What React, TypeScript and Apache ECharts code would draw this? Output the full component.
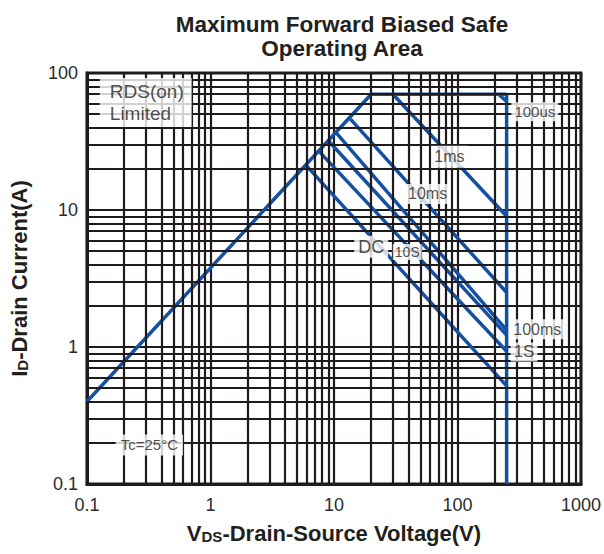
import React, { useEffect, useRef } from "react";
import * as echarts from "echarts";

// ---- tick labels ----
const xTickLabels = ["0.1", "1", "10", "100", "1000"];
const yTickLabels = ["0.1", "1", "10", "100"];

// ---- SOA curves: [VDS (V), ID (A)] ----
const limitLine = [[0.1, 0.4], [20, 70], [250, 70], [250, 0.1]];
const line100us = [[215, 70], [250, 62]];
const line1ms = [[30, 70], [250, 9]];
const line10ms = [[13.6, 46], [250, 2.5]];
const line100ms = [[10.3, 37], [250, 1.33]];
const line10s = [[9, 32], [250, 1.22]];
const line1s = [[7.5, 27], [250, 0.93]];
const lineDC = [[6, 21], [250, 0.52]];

// ---- annotation anchors (data coords) ----
const annoNames = ["RDS(on)\nLimited", "100us", "1ms", "10ms", "DC", "10S", "100ms", "1S", "Tc=25°C"];
const annoX = [0.127, 423, 86, 57.3, 20, 39.2, 443, 346, 0.32];
const annoY = [61, 52.2, 24.5, 13.1, 5.4, 4.93, 1.35, 0.92, 0.193];

const FONT = "Liberation Sans, Arial, Helvetica, sans-serif";
const GRID = "#1f1b1c";
const BLUE = "#1450a2";

const annoStyle: Record<string, any> = {
  "RDS(on)\nLimited": { fontSize: 19, lineHeight: 22, align: "left", padding: [3, 8, 2, 10] },
  "100us": { fontSize: 15, padding: [2, 3] },
  "1ms": { fontSize: 16, padding: [3, 3] },
  "10ms": { fontSize: 16, padding: [2, 3] },
  "DC": { fontSize: 18, padding: [2, 4] },
  "10S": { fontSize: 14, padding: [1, 2] },
  "100ms": { fontSize: 16, padding: [2, 3] },
  "1S": { fontSize: 17, padding: [1, 3] },
  "Tc=25°C": { fontSize: 15, padding: [3, 5] },
};

function minorValues(decades: number[]) {
  const out: number[] = [];
  decades.forEach((d) => {
    for (let m = 2; m <= 9; m++) out.push(+(m * d).toPrecision(3));
  });
  return out;
}

export default function App() {
  const ref = useRef<HTMLDivElement>(null);
  useEffect(() => {
    document.body.style.margin = "0";
    const chart = echarts.init(ref.current!, null, { renderer: "svg" });
    const xMinor = minorValues([0.1, 1, 10, 100]);
    const yMinor = minorValues([0.1, 1, 10]);
    const blueLine = (name: string, data: number[][]) => ({
      type: "line",
      name,
      data,
      symbol: "none",
      silent: true,
      z: 3,
      lineStyle: { color: BLUE, width: 3.5 },
    });
    const nameRich = {
      b: { fontSize: 22, fontWeight: "bold", fontFamily: FONT, color: "#231f20" },
      s: { fontSize: 15, fontWeight: "bold", fontFamily: FONT, color: "#231f20", verticalAlign: "bottom" },
    };
    const option: any = {
      animation: false,
      title: {
        text: "Maximum Forward Biased Safe\nOperating Area",
        left: 337,
        top: 7,
        textAlign: "center",
        textStyle: { fontFamily: FONT, fontSize: 22.5, fontWeight: "bold", color: "#231f20", lineHeight: 24 },
      },
      grid: { left: 87, right: 20, top: 73, bottom: 70, show: true, borderColor: GRID, borderWidth: 3, backgroundColor: "#fff" },
      xAxis: {
        type: "log",
        logBase: 10,
        min: 0.1,
        max: 1000,
        axisLine: { show: true, lineStyle: { color: GRID, width: 3 } },
        axisTick: { show: false },
        splitLine: { show: true, lineStyle: { color: GRID, width: 2.2 } },
        axisLabel: {
          formatter: (v: number) => xTickLabels[Math.round(Math.log10(v)) + 1],
          fontSize: 18,
          color: "#2b2b2b",
          fontFamily: FONT,
          margin: 12,
        },
        name: "{b|V}{s|DS}{b|-Drain-Source Voltage(V)}",
        nameLocation: "middle",
        nameGap: 38,
        nameTextStyle: { rich: nameRich },
      },
      yAxis: {
        type: "log",
        logBase: 10,
        min: 0.1,
        max: 100,
        axisLine: { show: true, lineStyle: { color: GRID, width: 3 } },
        axisTick: { show: false },
        splitLine: { show: true, lineStyle: { color: GRID, width: 2.2 } },
        axisLabel: {
          formatter: (v: number) => yTickLabels[Math.round(Math.log10(v)) + 1],
          fontSize: 18,
          color: "#2b2b2b",
          fontFamily: FONT,
          margin: 9,
        },
        name: "{b|I}{s|D}{b|-Drain Current(A)}",
        nameLocation: "middle",
        nameGap: 57,
        nameTextStyle: { rich: nameRich },
      },
      series: [
        {
          type: "line",
          data: [],
          z: 1,
          silent: true,
          markLine: {
            silent: true,
            animation: false,
            symbol: ["none", "none"],
            label: { show: false },
            emphasis: { disabled: true },
            lineStyle: { color: GRID, width: 2.2, type: "solid" },
            data: [...xMinor.map((v) => ({ xAxis: v })), ...yMinor.map((v) => ({ yAxis: v }))],
          },
        },
        blueLine("Limit", limitLine),
        blueLine("100us", line100us),
        blueLine("1ms", line1ms),
        blueLine("10ms", line10ms),
        blueLine("100ms", line100ms),
        blueLine("10S", line10s),
        blueLine("1S", line1s),
        blueLine("DC", lineDC),
        {
          type: "scatter",
          silent: true,
          z: 10,
          symbolSize: 0.1,
          itemStyle: { color: "rgba(0,0,0,0)" },
          label: {
            show: true,
            position: "inside",
            formatter: (p: any) => p.name,
            backgroundColor: "#fff",
            color: "#231f20",
            textBorderWidth: 0,
            fontFamily: FONT,
          },
          data: annoNames.map((n, i) => ({
            name: n,
            value: [annoX[i], annoY[i]],
            label: annoStyle[n],
          })),
        },
      ],
    };
    chart.setOption(option);
    return () => chart.dispose();
  }, []);
  return <div ref={ref} style={{ width: 604, height: 554 }} />;
}
